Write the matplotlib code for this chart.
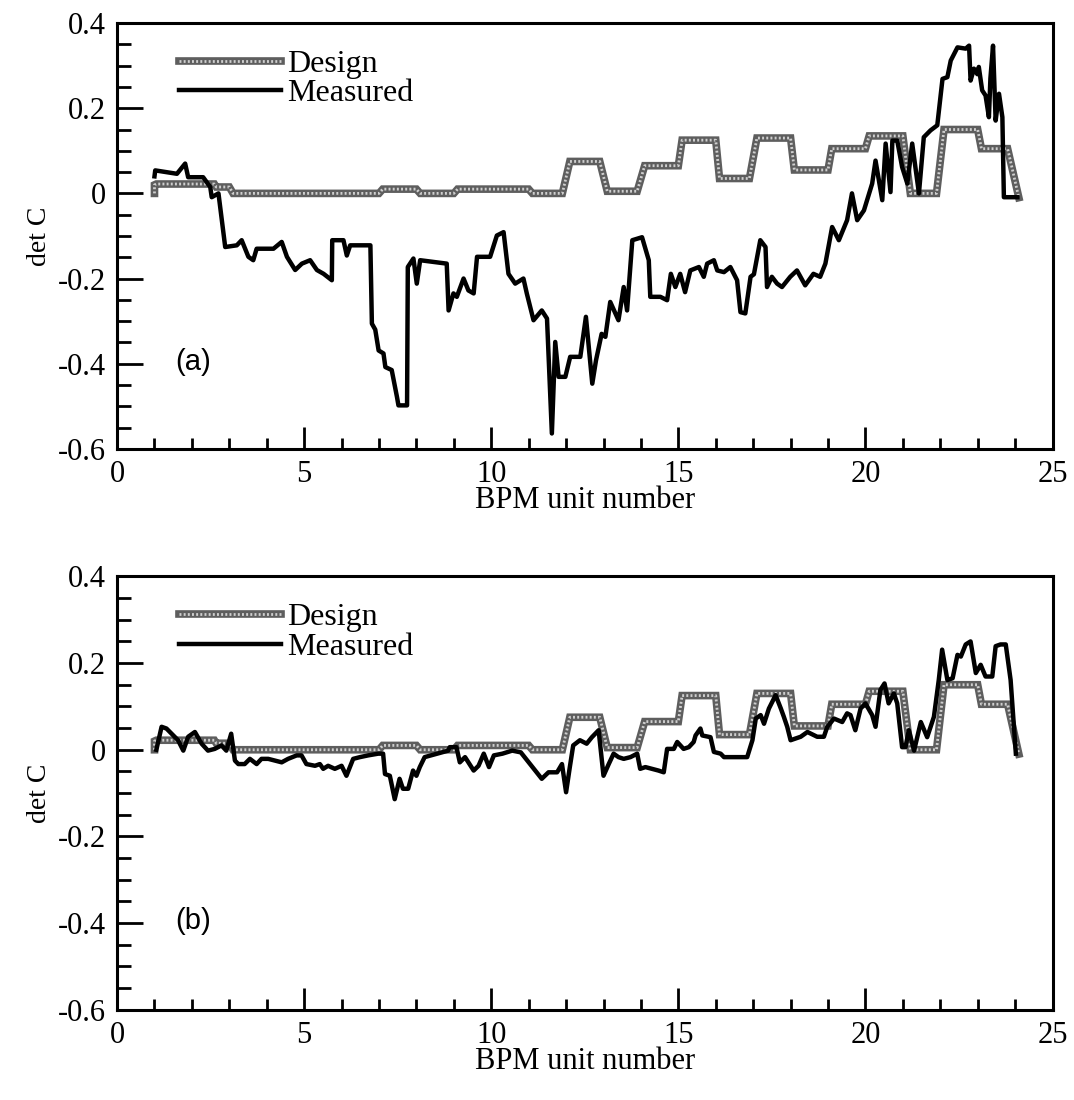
import matplotlib
matplotlib.use('Agg')
import matplotlib.pyplot as plt
from matplotlib.ticker import MultipleLocator, FuncFormatter

plt.rcParams['font.family'] = ['Liberation Serif', 'DejaVu Serif']
plt.rcParams['axes.unicode_minus'] = False

# design det C (same for both panels)
design_x = [1.0, 1.0, 1.05, 2.6, 2.65, 3.0, 3.1, 7.0, 7.1, 8.0, 8.1, 9.0, 9.1, 11.0, 11.1,
            11.9, 12.1, 12.9, 13.1, 13.9, 14.1, 15.0, 15.1, 16.0, 16.1, 16.9, 17.1, 18.0,
            18.1, 19.0, 19.1, 20.0, 20.1, 21.0, 21.2, 21.9, 22.1, 23.0, 23.1, 23.8, 24.1]
design_y = [0.0, 0.02, 0.022, 0.022, 0.015, 0.015, 0.0, 0.0, 0.01, 0.01, 0.0, 0.0, 0.01,
            0.01, 0.0, 0.0, 0.075, 0.075, 0.005, 0.005, 0.065, 0.065, 0.125, 0.125, 0.035,
            0.035, 0.13, 0.13, 0.055, 0.055, 0.105, 0.105, 0.135, 0.135, 0.0, 0.0, 0.15,
            0.15, 0.105, 0.105, -0.01]

# measured, panel (a)
meas_a_x = [1.0, 1.02, 1.6, 1.82, 1.9, 2.3, 2.49, 2.53, 2.71, 2.89, 3.2, 3.33, 3.51, 3.64,
            3.73, 4.18, 4.4, 4.54, 4.76, 4.94, 5.16, 5.34, 5.52, 5.74, 5.75, 6.05, 6.14,
            6.23, 6.77, 6.81, 6.9, 6.99, 7.12, 7.17, 7.34, 7.48, 7.52, 7.75, 7.77, 7.92,
            8.01, 8.1, 8.81, 8.86, 8.99, 9.08, 9.26, 9.39, 9.53, 9.62, 9.97, 10.15, 10.33,
            10.46, 10.64, 10.86, 10.95, 11.13, 11.35, 11.49, 11.62, 11.71, 11.8, 11.98,
            12.11, 12.38, 12.53, 12.7, 12.8, 12.95, 13.05, 13.18, 13.4, 13.54, 13.63,
            13.77, 14.03, 14.21, 14.25, 14.52, 14.7, 14.8, 14.92, 15.05, 15.18, 15.32,
            15.55, 15.68, 15.77, 15.95, 16.04, 16.22, 16.39, 16.57, 16.66, 16.79, 16.93,
            17.02, 17.19, 17.33, 17.37, 17.5, 17.64, 17.77, 17.99, 18.17, 18.39, 18.61,
            18.79, 18.93, 19.11, 19.29, 19.51, 19.64, 19.78, 19.96, 20.18, 20.27, 20.45,
            20.54, 20.67, 20.72, 20.85, 20.98, 21.12, 21.25, 21.43, 21.56, 21.74, 21.92,
            22.06, 22.19, 22.28, 22.46, 22.68, 22.77, 22.81, 22.9, 22.99, 23.03, 23.12,
            23.21, 23.3, 23.34, 23.41, 23.48, 23.57, 23.66, 23.7, 24.06]
meas_a_y = [0.04, 0.054, 0.046, 0.07, 0.038, 0.038, 0.015, -0.009, 0.0, -0.126, -0.122,
            -0.11, -0.149, -0.157, -0.13, -0.13, -0.114, -0.149, -0.18, -0.165, -0.157,
            -0.18, -0.189, -0.204, -0.11, -0.11, -0.146, -0.122, -0.122, -0.306, -0.32,
            -0.369, -0.376, -0.408, -0.415, -0.478, -0.498, -0.498, -0.173, -0.153,
            -0.212, -0.157, -0.165, -0.275, -0.235, -0.243, -0.2, -0.228, -0.235, -0.149,
            -0.149, -0.099, -0.091, -0.189, -0.212, -0.2, -0.235, -0.298, -0.275, -0.294,
            -0.564, -0.349, -0.431, -0.431, -0.384, -0.384, -0.29, -0.447, -0.392, -0.33,
            -0.337, -0.255, -0.298, -0.22, -0.275, -0.11, -0.103, -0.157, -0.243, -0.243,
            -0.251, -0.189, -0.22, -0.189, -0.232, -0.181, -0.173, -0.196, -0.165, -0.157,
            -0.181, -0.185, -0.173, -0.204, -0.279, -0.282, -0.196, -0.19, -0.11, -0.126,
            -0.22, -0.196, -0.212, -0.22, -0.196, -0.181, -0.216, -0.189, -0.196, -0.165,
            -0.079, -0.11, -0.063, 0.0, -0.063, -0.04, 0.023, 0.077, -0.016, 0.117, 0.003,
            0.124, 0.124, 0.062, 0.023, 0.117, 0.0, 0.132, 0.148, 0.16, 0.269, 0.273,
            0.312, 0.343, 0.34, 0.347, 0.265, 0.293, 0.28, 0.297, 0.242, 0.23, 0.179, 0.27,
            0.347, 0.171, 0.234, 0.179, -0.009, -0.009]

# measured, panel (b)
meas_b_x = [1.05, 1.19, 1.32, 1.54, 1.63, 1.77, 1.9, 2.08, 2.26, 2.43, 2.61, 2.79, 2.92,
            3.05, 3.15, 3.24, 3.41, 3.55, 3.73, 3.86, 4.04, 4.22, 4.4, 4.57, 4.8, 4.93,
            5.06, 5.29, 5.42, 5.51, 5.64, 5.82, 6.0, 6.13, 6.31, 6.49, 6.71, 6.98, 7.11,
            7.16, 7.29, 7.42, 7.55, 7.64, 7.78, 7.91, 8.0, 8.09, 8.22, 8.85, 8.89, 9.07,
            9.16, 9.3, 9.53, 9.66, 9.8, 9.94, 10.07, 10.3, 10.56, 10.79, 11.0, 11.35,
            11.53, 11.76, 11.89, 12.0, 12.1, 12.19, 12.37, 12.55, 12.69, 12.87, 13.0,
            13.14, 13.27, 13.4, 13.54, 13.72, 13.9, 13.98, 14.12, 14.3, 14.47, 14.61,
            14.7, 14.88, 14.97, 15.14, 15.28, 15.41, 15.46, 15.59, 15.64, 15.86, 15.95,
            16.13, 16.22, 16.84, 16.98, 17.07, 17.2, 17.29, 17.42, 17.6, 17.74, 17.82,
            17.91, 18.0, 18.27, 18.45, 18.71, 18.89, 18.98, 19.16, 19.38, 19.51, 19.6,
            19.73, 19.87, 20.0, 20.18, 20.27, 20.4, 20.51, 20.62, 20.76, 20.85, 20.98,
            21.07, 21.16, 21.3, 21.48, 21.65, 21.83, 21.96, 22.05, 22.19, 22.33, 22.46,
            22.55, 22.68, 22.81, 22.95, 23.08, 23.21, 23.39, 23.48, 23.61, 23.75, 23.88,
            24.02]
meas_b_y = [0.0, 0.053, 0.049, 0.03, 0.022, -0.002, 0.03, 0.041, 0.014, -0.002, 0.002,
            0.01, -0.002, 0.037, -0.025, -0.033, -0.033, -0.021, -0.033, -0.021, -0.021,
            -0.025, -0.029, -0.021, -0.013, -0.013, -0.033, -0.037, -0.033, -0.044,
            -0.037, -0.044, -0.037, -0.06, -0.021, -0.017, -0.013, -0.009, -0.009, -0.056,
            -0.06, -0.114, -0.067, -0.09, -0.09, -0.048, -0.06, -0.04, -0.017, -0.002,
            0.006, 0.006, -0.029, -0.017, -0.048, -0.037, -0.009, -0.04, -0.013, -0.009,
            -0.002, -0.006, -0.029, -0.067, -0.052, -0.052, -0.033, -0.098, -0.04, 0.01,
            0.022, 0.014, 0.029, 0.045, -0.06, -0.033, -0.009, -0.017, -0.021, -0.017,
            -0.009, -0.044, -0.04, -0.044, -0.048, -0.052, 0.002, 0.002, 0.018, 0.002,
            0.006, 0.018, 0.033, 0.049, 0.033, 0.029, -0.005, -0.009, -0.017, -0.017,
            0.022, 0.072, 0.08, 0.06, 0.095, 0.126, 0.095, 0.076, 0.053, 0.022, 0.03,
            0.041, 0.03, 0.03, 0.053, 0.072, 0.064, 0.084, 0.08, 0.045, 0.095, 0.107,
            0.08, 0.053, 0.138, 0.153, 0.107, 0.13, 0.107, 0.006, 0.006, 0.045, -0.002,
            0.064, 0.029, 0.076, 0.161, 0.231, 0.161, 0.165, 0.219, 0.215, 0.243, 0.25,
            0.177, 0.196, 0.169, 0.169, 0.239, 0.243, 0.243, 0.161, -0.009]

panels = [('(a)', meas_a_x, meas_a_y), ('(b)', meas_b_x, meas_b_y)]
ytick_vals = [-0.6, -0.4, -0.2, 0, 0.2, 0.4]


def fmt(v, pos):
    if abs(v) < 1e-9:
        return '0'
    return f'{v:g}'


fig = plt.figure(figsize=(10.74, 11.0), dpi=100)
boxes = [[0.109, 0.592, 0.871, 0.387], [0.109, 0.082, 0.871, 0.394]]

for box, (tag, mx, my) in zip(boxes, panels):
    ax = fig.add_axes(box)
    d1, = ax.plot(design_x, design_y, color='#5e5e5e', lw=5.5, solid_joinstyle='miter', zorder=2)
    d2, = ax.plot(design_x, design_y, color='#cfcfcf', lw=2.0, linestyle=(0, (0.7, 0.8)), zorder=2)
    m, = ax.plot(mx, my, color='black', lw=3.2, zorder=3)

    ax.set_xlim(0, 25)
    ax.set_ylim(-0.6, 0.4)
    ax.xaxis.set_major_locator(MultipleLocator(5))
    ax.xaxis.set_minor_locator(MultipleLocator(1))
    ax.set_yticks(ytick_vals)
    ax.yaxis.set_minor_locator(MultipleLocator(0.05))
    ax.yaxis.set_major_formatter(FuncFormatter(fmt))
    ax.tick_params(which='both', direction='in', top=False, right=False, width=2,
                   labelsize=22, pad=8)
    ax.tick_params(axis='x', which='major', length=16)
    ax.tick_params(axis='x', which='minor', length=8)
    ax.tick_params(axis='y', which='major', length=19)
    ax.tick_params(axis='y', which='minor', length=10)
    for s in ax.spines.values():
        s.set_linewidth(2.2)

    ax.set_xlabel('BPM unit number', fontsize=22, labelpad=-2)
    ax.set_ylabel('det C', fontsize=20, labelpad=4)

    ax.legend([(d1, d2), m], ['Design', 'Measured'], loc='upper left',
              bbox_to_anchor=(0.042, 0.99), frameon=False, fontsize=23,
              handlelength=3.2, handletextpad=0.2, labelspacing=0.0, borderaxespad=0.3)
    ax.text(0.062, 0.205, tag, transform=ax.transAxes, fontsize=21,
            family=['Liberation Sans', 'DejaVu Sans'], va='center', ha='left')

fig.savefig('out.png', dpi=100)
